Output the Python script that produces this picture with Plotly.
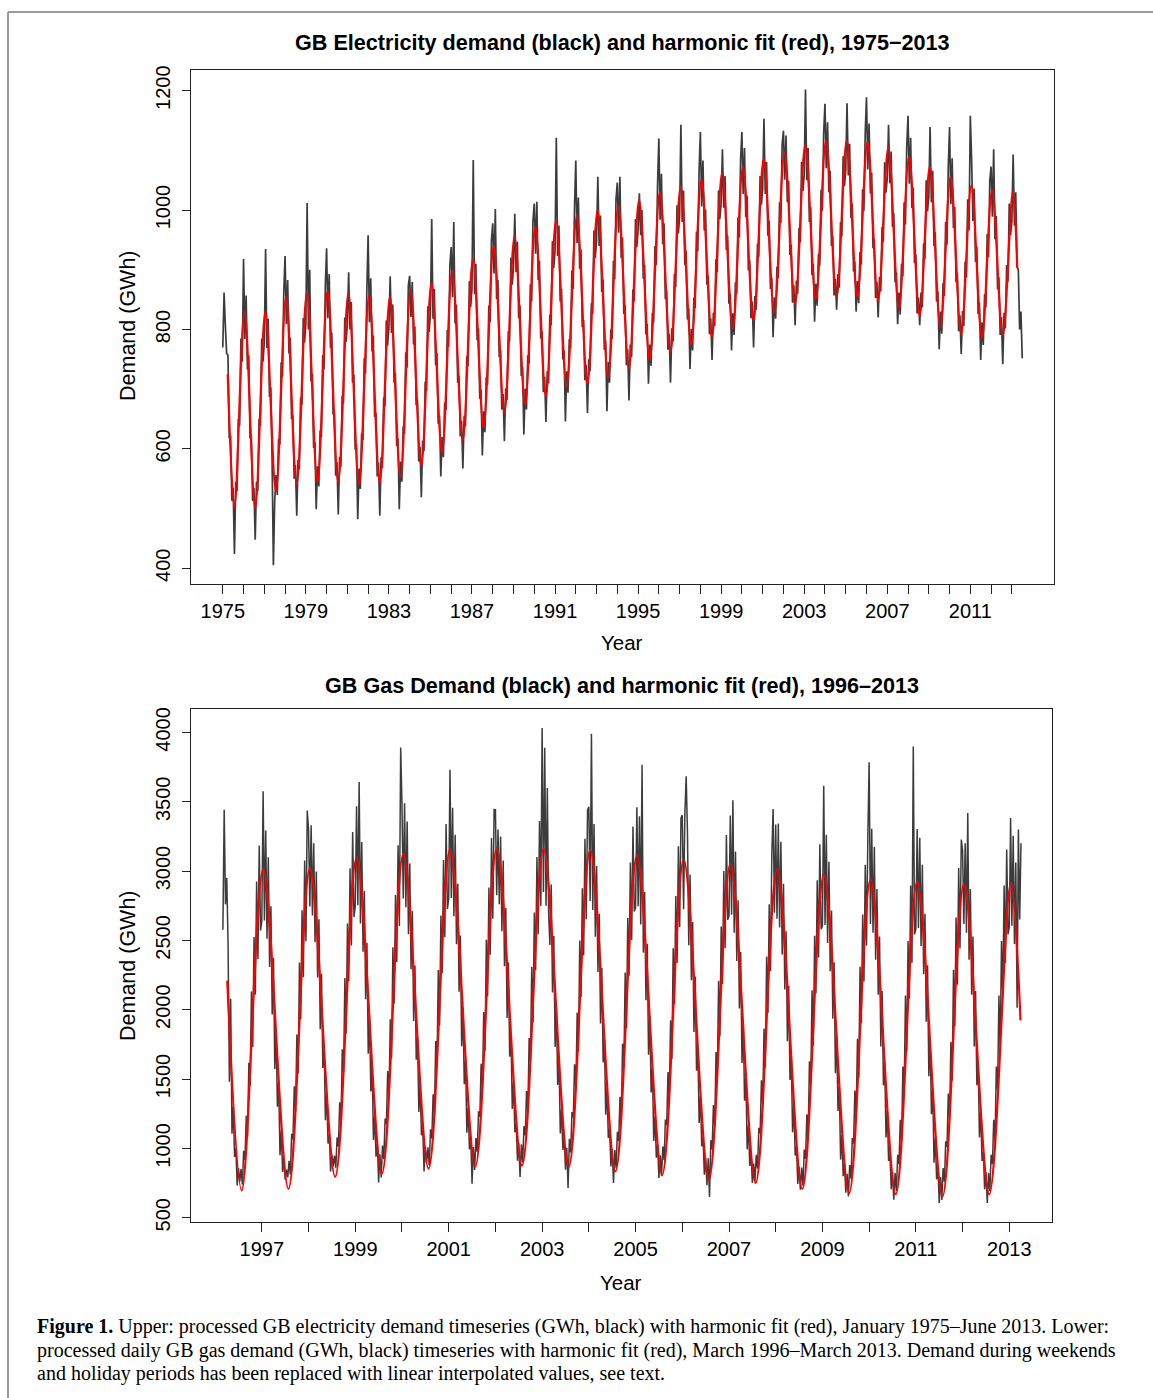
import plotly.graph_objects as go

W, H = 1153, 1398

# ---------------- Electricity (upper panel) ----------------
ELEC_START = 1975.0          # first sample (decimal year)
ELEC_PER_YEAR = 16           # samples per year
elec_demand = [
    770, 862, 805, 760, 757, 618, 622, 513, 535, 424, 545, 529, 650, 639, 785, 746,          # 1975
    918, 784, 857, 733, 757, 618, 622, 513, 535, 448, 545, 529, 650, 639, 785, 746,          # 1976
    778, 935, 769, 818, 687, 703, 582, 405, 512, 556, 523, 617, 607, 745, 721, 861,          # 1977
    923, 809, 883, 760, 786, 650, 656, 550, 573, 488, 582, 566, 686, 674, 819, 778,          # 1978
    809, 1012, 800, 900, 713, 726, 602, 611, 499, 571, 537, 631, 620, 757, 733, 872,         # 1979
    936, 819, 893, 769, 795, 658, 662, 555, 578, 490, 587, 570, 689, 676, 820, 779,          # 1980
    809, 896, 800, 846, 711, 724, 599, 608, 482, 567, 533, 626, 615, 752, 726, 865,          # 1981
    958, 812, 886, 763, 790, 654, 660, 554, 577, 488, 586, 568, 686, 672, 815, 773,          # 1982
    803, 889, 794, 842, 711, 727, 605, 617, 499, 579, 545, 638, 626, 762, 736, 874,          # 1983
    890, 821, 880, 775, 805, 673, 683, 579, 604, 519, 614, 596, 713, 697, 839, 796,          # 1984
    826, 985, 818, 868, 740, 760, 642, 656, 554, 620, 586, 678, 665, 799, 771, 908,          # 1985
    938, 854, 980, 810, 842, 711, 723, 621, 647, 567, 656, 638, 755, 739, 881, 838,          # 1986
    867, 1084, 859, 910, 782, 802, 684, 699, 589, 663, 628, 720, 707, 840, 812, 949,         # 1987
    978, 894, 1002, 851, 883, 754, 766, 666, 692, 613, 701, 682, 797, 780, 920, 875,         # 1988
    904, 994, 896, 947, 819, 840, 722, 737, 624, 701, 666, 757, 743, 876, 847, 982,          # 1989
    1011, 927, 1014, 883, 915, 785, 797, 695, 721, 645, 730, 710, 825, 807, 948, 903,        # 1990
    931, 1121, 923, 974, 847, 868, 750, 765, 646, 730, 694, 784, 768, 899, 868, 1002,        # 1991
    1083, 945, 1021, 902, 934, 804, 816, 715, 741, 660, 750, 730, 844, 826, 966, 920,        # 1992
    948, 1056, 940, 991, 863, 884, 766, 782, 663, 746, 711, 800, 784, 915, 884, 1018,        # 1993
    1046, 962, 1056, 920, 954, 826, 840, 740, 767, 681, 775, 754, 867, 847, 985, 938,        # 1994
    966, 1028, 958, 1000, 885, 908, 792, 809, 709, 775, 739, 828, 811, 940, 908, 1041,       # 1995
    1120, 984, 1061, 943, 978, 851, 865, 766, 793, 711, 802, 780, 893, 871, 1008, 961,       # 1996
    988, 1143, 980, 1033, 908, 932, 817, 835, 734, 801, 765, 853, 836, 964, 931, 1064,       # 1997
    1131, 1006, 1083, 966, 1001, 875, 890, 792, 819, 749, 828, 806, 918, 896, 1033, 985,     # 1998
    1012, 1102, 1004, 1057, 933, 957, 843, 860, 765, 827, 791, 879, 860, 988, 954, 1085,     # 1999
    1131, 1027, 1104, 988, 1024, 899, 916, 819, 847, 770, 856, 833, 944, 922, 1057, 1009,    # 2000
    1035, 1153, 1027, 1081, 957, 982, 868, 887, 787, 854, 818, 905, 886, 1013, 979, 1110,    # 2001
    1133, 1051, 1125, 1013, 1049, 925, 942, 845, 874, 807, 882, 860, 970, 946, 1081, 1032,   # 2002
    1058, 1202, 1050, 1104, 980, 1005, 891, 910, 813, 877, 840, 927, 907, 1034, 999, 1129,   # 2003
    1178, 1070, 1147, 1030, 1066, 940, 956, 857, 885, 833, 893, 870, 980, 956, 1090, 1040,   # 2004
    1066, 1179, 1058, 1111, 987, 1011, 897, 914, 830, 881, 844, 930, 909, 1035, 998, 1128,   # 2005
    1189, 1068, 1145, 1028, 1063, 936, 951, 853, 880, 820, 888, 864, 972, 947, 1080, 1029,   # 2006
    1054, 1143, 1045, 1098, 972, 995, 879, 896, 809, 862, 825, 910, 889, 1013, 976, 1105,    # 2007
    1158, 1044, 1121, 1003, 1038, 911, 926, 827, 854, 807, 862, 837, 944, 918, 1050, 998,    # 2008
    1022, 1139, 1013, 1066, 940, 963, 847, 864, 767, 830, 793, 878, 856, 980, 942, 1071,     # 2009
    1139, 1010, 1087, 970, 1005, 879, 895, 797, 824, 759, 831, 806, 914, 887, 1018, 966,     # 2010
    1158, 1085, 982, 1036, 913, 939, 826, 845, 749, 812, 774, 859, 837, 960, 921, 1049,      # 2011
    1073, 989, 1102, 951, 990, 867, 887, 791, 821, 742, 828, 802, 908, 880, 1011, 958,       # 2012
    981, 1093, 974, 1030, 905, 900, 800, 830, 752,                                            # 2013 (to June)
]

# harmonic fit, read at its turning points
elec_fit_first = (1975.24, 725)
elec_fit_last = (2013.26, 903)
elec_trough_years = list(range(1975, 2013))
elec_fit_troughs = [502, 502, 530, 540, 545, 545, 541, 544, 553, 572,
                    594, 615, 637, 660, 675, 689, 704, 709, 720, 735,
                    749, 762, 775, 788, 801, 816, 828, 843, 851, 854,
                    855, 849, 836, 823, 804, 793, 786, 790]
elec_peak_years = list(range(1976, 2014))
elec_fit_peaks = [830, 830, 855, 862, 865, 862, 858, 855, 867, 878,
                  900, 919, 940, 956, 973, 983, 991, 1000, 1008, 1017,
                  1030, 1039, 1052, 1063, 1073, 1086, 1097, 1109, 1116, 1117,
                  1114, 1105, 1090, 1073, 1056, 1041, 1034, 1032]
ELEC_PEAK_PHASE, ELEC_TROUGH_PHASE = 0.05, 0.56

elec_ticks = list(range(1975, 2014))
elec_tick_labels = [str(y) if (y - 1975) % 4 == 0 else "" for y in elec_ticks]
elec_yticks = [400, 600, 800, 1000, 1200]

# ---------------- Gas (lower panel) ----------------
GAS_START = 1996 + 6 / 36     # March 1996
GAS_PER_YEAR = 36
gas_demand = [
    2577, 3443, 2760, 2950, 2470, 1480, 2080, 1106, 1300, 938, 1000, 733, 858, 760, 851, 740, 982, 915,
    1235, 1078, 1618, 1451, 2131, 1731, 2524, 2108, 2924, 2366, 3184, 2571,                                   # 1996
    2636, 3575, 2643, 3293, 2512, 3099, 2309, 2746, 1966, 2373, 1573, 1853, 1300, 1476, 950, 1128, 830, 923,
    774, 847, 790, 911, 812, 1105, 1065, 1448, 1268, 1821, 1541, 2341, 1934, 2718, 2234, 3076, 2494, 3437,    # 1997
    3300, 2744, 3330, 2680, 3200, 2486, 2996, 2233, 2653, 1860, 2260, 1580, 1747, 1203, 1397, 1035, 1097, 834,
    955, 870, 948, 860, 1079, 1012, 1332, 1175, 1715, 1548, 2228, 1828, 2621, 2205, 3021, 2463, 3281, 2668,   # 1998
    2746, 3467, 2753, 3642, 2622, 3209, 2419, 2856, 2076, 2483, 1683, 1963, 1410, 1586, 1060, 1238, 940, 1033,
    755, 957, 791, 1021, 922, 1215, 1175, 1558, 1378, 1931, 1651, 2451, 2044, 2828, 2344, 3186, 2604, 3892,   # 1999
    3482, 2803, 3489, 2739, 3358, 2545, 3055, 2292, 2712, 1919, 2319, 1639, 1806, 1262, 1456, 1094, 1156, 834,
    1014, 900, 1007, 877, 1138, 1071, 1391, 1234, 1774, 1607, 2287, 1887, 2680, 2264, 3080, 2522, 3340, 2727, # 2000
    2799, 3731, 2806, 3456, 2675, 3262, 2472, 2909, 2129, 2536, 1736, 2016, 1463, 1639, 1113, 1291, 993, 1086,
    745, 1010, 844, 1074, 975, 1268, 1228, 1611, 1431, 1984, 1704, 2504, 2097, 2881, 2397, 3239, 2657, 3444,  # 2001
    3443, 2825, 3300, 2761, 3250, 2567, 3077, 2314, 2734, 1941, 2341, 1661, 1828, 1284, 1478, 1116, 1178, 911,
    1036, 793, 1029, 899, 1160, 1093, 1413, 1256, 1796, 1629, 2309, 1909, 2702, 2286, 3102, 2544, 3362, 2749, # 2002
    4032, 2850, 3890, 2750, 3600, 2700, 2467, 2904, 2124, 2531, 1731, 2011, 1458, 1634, 1108, 1286, 988, 1081,
    846, 1005, 714, 1069, 970, 1263, 1223, 1606, 1426, 1979, 1699, 2499, 2092, 2876, 2392, 3234, 2652, 3439,  # 2003
    3463, 2784, 3991, 2720, 3339, 2526, 3036, 2273, 2693, 1900, 2300, 1620, 1787, 1243, 1437, 1075, 1137, 870,
    995, 750, 988, 858, 1119, 1052, 1372, 1215, 1755, 1588, 2268, 1868, 2661, 2245, 3061, 2503, 3321, 2708,   # 2004
    2739, 3460, 2746, 3396, 2615, 3767, 2412, 2849, 2069, 2476, 1676, 1956, 1403, 1579, 1053, 1231, 933, 1026,
    786, 950, 800, 1014, 915, 1208, 1168, 1551, 1371, 1924, 1644, 2444, 2037, 2821, 2337, 3179, 2597, 3384,   # 2005
    3403, 2724, 3410, 3683, 3279, 2466, 2976, 2213, 2633, 1840, 2240, 1560, 1727, 1183, 1377, 1015, 1077, 810,
    935, 734, 928, 649, 1059, 992, 1312, 1155, 1695, 1528, 2208, 1808, 2601, 2185, 3001, 2443, 3261, 2648,    # 2006
    2679, 3400, 2686, 3510, 2555, 3142, 2352, 2789, 2009, 2416, 1616, 1896, 1343, 1519, 993, 1171, 873, 966,
    750, 890, 760, 954, 855, 1148, 1108, 1491, 1311, 1864, 1584, 2384, 1977, 2761, 2277, 3119, 3448, 2700,    # 2007
    3336, 2657, 3343, 2593, 3212, 2399, 2909, 2146, 2566, 1773, 2173, 1493, 1660, 1116, 1310, 948, 1010, 743,
    868, 702, 861, 731, 992, 925, 1245, 1088, 1628, 1461, 2141, 1741, 2534, 2118, 2934, 2376, 3194, 2581,     # 2008
    2605, 3616, 2612, 3262, 2481, 3068, 2278, 2715, 1935, 2342, 1542, 1822, 1269, 1445, 919, 1097, 799, 892,
    680, 816, 654, 880, 781, 1074, 1034, 1417, 1237, 1790, 1510, 2310, 1903, 2687, 2203, 3045, 2463, 3250,    # 2009
    3784, 2619, 3305, 2555, 3174, 2361, 2871, 2108, 2528, 1735, 2135, 1455, 1622, 1078, 1272, 910, 972, 705,
    830, 630, 823, 693, 954, 887, 1207, 1050, 1590, 1423, 2103, 1703, 2496, 2080, 2896, 2338, 3899, 2543,     # 2010
    2583, 3304, 2590, 3240, 2459, 3046, 2256, 2693, 1913, 2320, 1520, 1800, 1247, 1423, 897, 1075, 777, 870,
    606, 794, 628, 858, 759, 1052, 1012, 1395, 1215, 1768, 1488, 2288, 1881, 2665, 2181, 3023, 2441, 3228,    # 2011
    3150, 2619, 3200, 2555, 3419, 2361, 2871, 2108, 2528, 1735, 2135, 1455, 1622, 1078, 1272, 910, 972, 705,
    830, 606, 823, 693, 954, 887, 1207, 1050, 1590, 1423, 2103, 1703, 2496, 2080, 2896, 2338, 3156, 2543,     # 2012
    2598, 3383, 2605, 3255, 2474, 3061, 2015, 3300, 2650, 3200,                                              # 2013 (to March)
]
gas_fit_first = (1996.26, 2210)
gas_fit_last = (2013.24, 1923)
gas_trough_years = list(range(1996, 2013))
gas_fit_troughs = [697, 707, 794, 817, 853, 870, 875, 865, 834, 810, 774, 750, 707, 676, 669, 654, 669]
gas_peak_years = list(range(1997, 2014))
gas_fit_peaks = [3015, 3022, 3101, 3125, 3159, 3166, 3159, 3154, 3111, 3082, 3053, 3015, 2974, 2938, 2925, 2909, 2914]
GAS_PEAK_PHASE, GAS_TROUGH_PHASE = 0.03, 0.57

gas_ticks = list(range(1997, 2014))
gas_tick_labels = [str(y) if (y - 1997) % 2 == 0 else "" for y in gas_ticks]
gas_yticks = [500, 1000, 1500, 2000, 2500, 3000, 3500, 4000]


def fit_points(first, last, t_years, troughs, p_years, peaks, tp, pp):
    pts = [first]
    pts += [(y + tp, v) for y, v in zip(t_years, troughs)]
    pts += [(y + pp, v) for y, v in zip(p_years, peaks)]
    pts.sort()
    pts.append(last)
    return [p[0] for p in pts], [p[1] for p in pts]


elec_x = [ELEC_START + i / ELEC_PER_YEAR for i in range(len(elec_demand))]
gas_x = [GAS_START + i / GAS_PER_YEAR for i in range(len(gas_demand))]
efx, efy = fit_points(elec_fit_first, elec_fit_last, elec_trough_years, elec_fit_troughs,
                      elec_peak_years, elec_fit_peaks, ELEC_TROUGH_PHASE, ELEC_PEAK_PHASE)
gfx, gfy = fit_points(gas_fit_first, gas_fit_last, gas_trough_years, gas_fit_troughs,
                      gas_peak_years, gas_fit_peaks, GAS_TROUGH_PHASE, GAS_PEAK_PHASE)

BLACK = "#3c3c3c"
RED = "#ff0000"
FONT = "Liberation Sans, Arial, sans-serif"
SERIF = "Liberation Serif, Times New Roman, serif"

fig = go.Figure()
fig.add_trace(go.Scatter(x=elec_x, y=elec_demand, mode="lines",
                         line=dict(color=BLACK, width=1.7, simplify=False),
                         xaxis="x", yaxis="y", hoverinfo="skip"))
fig.add_trace(go.Scatter(x=efx, y=efy, mode="lines", line=dict(color=RED, width=2.2, shape="spline"),
                         xaxis="x", yaxis="y", hoverinfo="skip"))
fig.add_trace(go.Scatter(x=gas_x, y=gas_demand, mode="lines",
                         line=dict(color=BLACK, width=1.5, simplify=False),
                         xaxis="x2", yaxis="y2", hoverinfo="skip"))
fig.add_trace(go.Scatter(x=gfx, y=gfy, mode="lines", line=dict(color=RED, width=2.2, shape="spline"),
                         xaxis="x2", yaxis="y2", hoverinfo="skip"))


def px_x(p):
    return p / W


def px_y(p):
    return 1 - p / H


axis_common = dict(showgrid=False, zeroline=False, showline=True, linecolor="#222", linewidth=1,
                   mirror=True, ticks="outside", tickcolor="#222", tickwidth=1, automargin=False,
                   tickfont=dict(family=FONT, size=20, color="black"))

fig.update_layout(
    width=W, height=H, autosize=False,
    margin=dict(l=0, r=0, t=0, b=0, pad=0, autoexpand=False),
    paper_bgcolor="white", plot_bgcolor="white", showlegend=False,
    xaxis=dict(domain=[px_x(191), px_x(1054)], range=[1973.47, 2015.03], anchor="y",
               tickvals=elec_ticks, ticktext=elec_tick_labels, ticklen=9, **axis_common),
    yaxis=dict(domain=[px_y(584), px_y(70)], range=[373.7, 1234.7], anchor="x",
               tickvals=elec_yticks, ticktext=[str(v) for v in elec_yticks], tickangle=-90,
               ticklen=8, ticklabelstandoff=4, **axis_common),
    xaxis2=dict(domain=[px_x(191), px_x(1052)], range=[1995.484, 2013.914], anchor="y2",
                tickvals=gas_ticks, ticktext=gas_tick_labels, ticklen=9, **axis_common),
    yaxis2=dict(domain=[px_y(1222), px_y(709)], range=[469, 4169], anchor="x2",
                tickvals=gas_yticks, ticktext=[str(v) for v in gas_yticks], tickangle=-90,
                ticklen=8, ticklabelstandoff=4, **axis_common),
)

ann = []
ann.append(dict(text="<b>GB Electricity demand (black) and harmonic fit (red), 1975\u22122013</b>",
                x=px_x(622), y=px_y(42), font=dict(family=FONT, size=21.6, color="black")))
ann.append(dict(text="<b>GB Gas Demand (black) and harmonic fit (red), 1996\u20132013</b>",
                x=px_x(622), y=px_y(685), font=dict(family=FONT, size=21.6, color="black")))
ann.append(dict(text="Year", x=px_x(622), y=px_y(643), font=dict(family=FONT, size=20.5, color="black")))
ann.append(dict(text="Year", x=px_x(621), y=px_y(1282), font=dict(family=FONT, size=20.5, color="black")))
ann.append(dict(text="Demand (GWh)", x=px_x(128), y=px_y(326), textangle=-90,
                font=dict(family=FONT, size=21.5, color="black")))
ann.append(dict(text="Demand (GWh)", x=px_x(128), y=px_y(966), textangle=-90,
                font=dict(family=FONT, size=21.5, color="black")))
caption_lines = [
    "<b>Figure 1.</b> Upper: processed GB electricity demand timeseries (GWh, black) with harmonic fit (red), "
    "January 1975\u2013June 2013. Lower:",
    "processed daily GB gas demand (GWh, black) timeseries with harmonic fit (red), March 1996\u2013March 2013. "
    "Demand during weekends",
    "and holiday periods has been replaced with linear interpolated values, see text.",
]
for line, yc in zip(caption_lines, [1326, 1350, 1373]):
    ann.append(dict(text=line, x=px_x(35), y=px_y(yc), xanchor="left", align="left",
                    font=dict(family=SERIF, size=20, color="black")))
for a in ann:
    a.setdefault("xref", "paper")
    a.setdefault("yref", "paper")
    a.setdefault("showarrow", False)
    a.setdefault("xanchor", "center")
    a.setdefault("yanchor", "middle")
fig.update_layout(annotations=ann)

# page frame (grey rules at top and left)
fig.update_layout(shapes=[
    dict(type="line", xref="paper", yref="paper", x0=px_x(8), x1=1, y0=px_y(12), y1=px_y(12),
         line=dict(color="#9a9a9a", width=2)),
    dict(type="line", xref="paper", yref="paper", x0=px_x(8), x1=px_x(8), y0=px_y(12), y1=0,
         line=dict(color="#9a9a9a", width=2)),
])

fig.write_html("out.html", config={"displayModeBar": False},
               post_script="document.body.style.margin='0';document.body.style.overflow='hidden';")
